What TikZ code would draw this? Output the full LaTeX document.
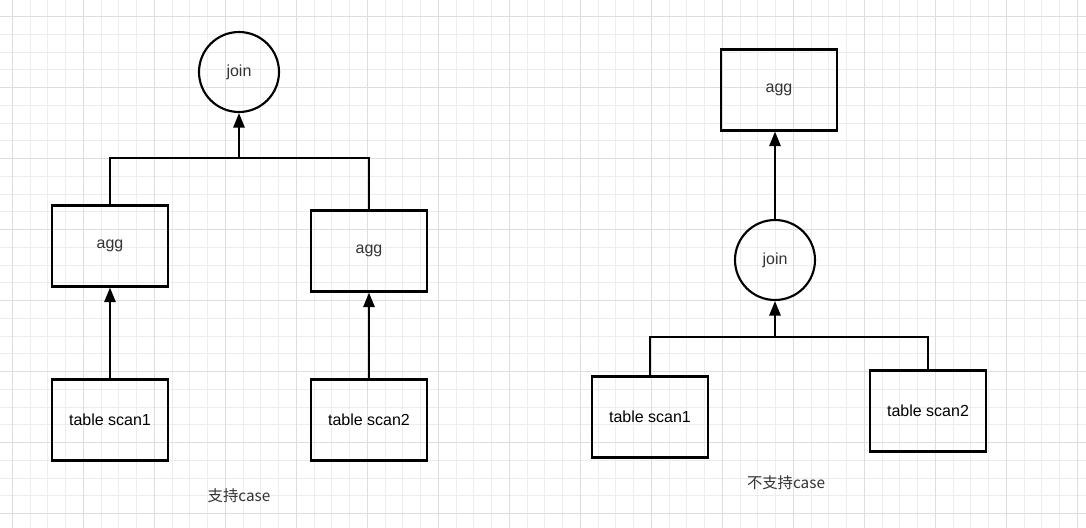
\documentclass[tikz,border=0pt]{standalone}
\usepackage{fontspec}
\setmainfont{Liberation Sans}
\newfontfamily\cjk{Noto Sans CJK SC}
\usetikzlibrary{arrows.meta}

\definecolor{gridminor}{HTML}{EDEDED}
\definecolor{gridmajor}{HTML}{DEDEDE}
\definecolor{inkgray}{HTML}{333333}

\tikzset{
  opbox/.style={draw, line width=1.6pt, minimum width=87pt, minimum height=60.75pt, inner sep=0pt, font=\fontsize{12}{14}\selectfont, text=inkgray},
  scanbox/.style={opbox, text=black},
  opcircle/.style={circle, draw, line width=1.6pt, minimum size=60pt, inner sep=0pt, font=\fontsize{12}{14}\selectfont, text=inkgray},
  link/.style={line width=1.6pt},
  caption/.style={font=\cjk\fontsize{11.5}{14}\selectfont, text=inkgray}
}

\begin{document}
\begin{tikzpicture}[x=0.75pt, y=-0.75pt, >={Triangle[length=11pt, width=8.5pt]}]
  \useasboundingbox (0,0) rectangle (1086,528);
  \fill[white] (0,0) rectangle (1086,528);
  \begin{scope}
    \clip (0,0) rectangle (1086,528);
    \foreach \k in {0,...,65} \draw[gridminor, line width=0.75pt] ({-58.7+\k*17.75},0) -- ++(0,528);
    \foreach \k in {0,...,34} \draw[gridminor, line width=0.75pt] (0,{-54.3+\k*17.75}) -- ++(1086,0);
    \foreach \k in {0,4,...,64} \draw[gridmajor, line width=1pt] ({-58.7+\k*17.75},0) -- ++(0,528);
    \foreach \k in {0,4,...,32} \draw[gridmajor, line width=1pt] (0,{-54.3+\k*17.75}) -- ++(1086,0);
  \end{scope}

  % supported case
  \node[opcircle] (join1) at (239,72) {join};
  \node[opbox] (agg1) at (110,246) {agg};
  \node[opbox] (agg2) at (369,251) {agg};
  \node[scanbox] (scan1) at (110,420) {table scan1};
  \node[scanbox] (scan2) at (369,420) {table scan2};
  \coordinate (bus1) at (239,158);
  \draw[link] (agg1.north) |- (bus1) -| (agg2.north);
  \draw[link, ->] (bus1) -- (join1.south);
  \draw[link, ->] (scan1) -- (agg1);
  \draw[link, ->] (scan2) -- (agg2);
  \node[caption] (cap1) at (239,496) {支持case};

  % unsupported case
  \node[opbox] (agg3) at (779,90) {agg};
  \node[opcircle] (join2) at (775,260) {join};
  \node[scanbox] (scan3) at (650,417) {table scan1};
  \node[scanbox] (scan4) at (928,411) {table scan2};
  \coordinate (bus2) at (775,337);
  \draw[link, ->] (join2.north) -- (join2.north |- agg3.south);
  \draw[link] (scan3.north) |- (bus2) -| (scan4.north);
  \draw[link, ->] (bus2) -- (join2.south);
  \node[caption] (cap2) at (786,483) {不支持case};
\end{tikzpicture}
\end{document}
